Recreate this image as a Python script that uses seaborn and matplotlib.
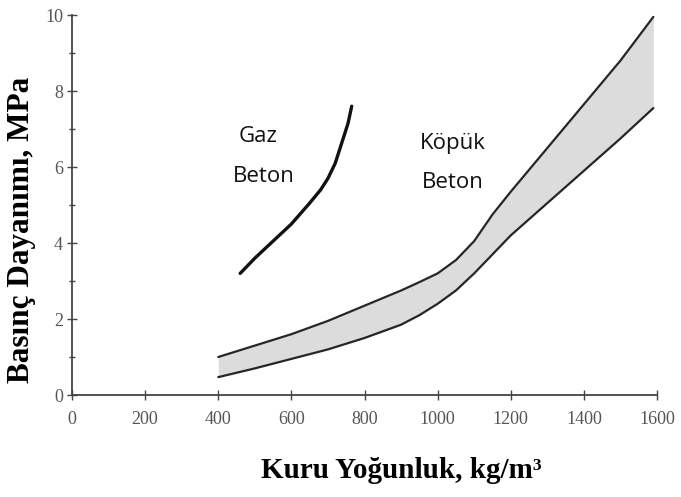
import numpy as np
import pandas as pd
import matplotlib
matplotlib.use("Agg")
import matplotlib.pyplot as plt
import seaborn as sns

# --------------------------------------------------------------
# Data
# --------------------------------------------------------------

gaz_density = [460, 500, 550, 600, 650, 680, 700, 720, 740, 755, 765]
gaz_strength = [3.2, 3.6, 4.05, 4.5, 5.05, 5.4, 5.7, 6.1, 6.7, 7.15, 7.6]

kopuk_density = [400, 500, 600, 700, 800, 900, 950, 1000, 1050, 1100,
                 1125, 1150, 1200, 1300, 1400, 1500, 1590]
kopuk_upper = [1.0, 1.3, 1.6, 1.95, 2.35, 2.75, 2.97, 3.2, 3.55, 4.05,
               4.4, 4.75, 5.35, 6.5, 7.65, 8.8, 9.95]
kopuk_lower = [0.47, 0.7, 0.95, 1.2, 1.5, 1.85, 2.1, 2.4, 2.75, 3.2,
               3.45, 3.7, 4.2, 5.05, 5.9, 6.75, 7.55]

x_ticks = [0, 200, 400, 600, 800, 1000, 1200, 1400, 1600]
y_ticks = [0, 2, 4, 6, 8, 10]

gaz = pd.DataFrame({"density": gaz_density, "strength": gaz_strength})
kopuk = pd.DataFrame({"density": kopuk_density,
                      "upper": kopuk_upper, "lower": kopuk_lower})

# --------------------------------------------------------------
# Plot
# --------------------------------------------------------------

sns.set_theme(style="ticks")
plt.rcParams["font.family"] = ["Liberation Serif", "DejaVu Serif"]

fig = plt.figure(figsize=(6.81, 4.97), dpi=100)
ax = fig.add_axes([72 / 681, 1 - 395 / 497, 585 / 681, 380 / 497])

line_col = "#262626"

ax.fill_between(kopuk["density"], kopuk["lower"], kopuk["upper"],
                color="#dcdcdc", lw=0)
sns.lineplot(data=kopuk, x="density", y="upper", ax=ax, color=line_col,
             lw=1.6, clip_on=False)
sns.lineplot(data=kopuk, x="density", y="lower", ax=ax, color=line_col,
             lw=1.6, clip_on=False)
sns.lineplot(data=gaz, x="density", y="strength", ax=ax, color="#111111",
             lw=2.4, clip_on=False)

label_font = dict(family=["Open Sans", "DejaVu Sans"], fontsize=16,
                  color="#111111", ha="center", va="center")
ax.text(510, 6.8, "Gaz", **label_font)
ax.text(525, 5.76, "Beton", **label_font)
ax.text(1041, 6.63, "Köpük", **label_font)
ax.text(1041, 5.58, "Beton", **label_font)

ax.set_xlim(0, 1600)
ax.set_ylim(0, 10)
ax.set_xticks(x_ticks)
ax.set_yticks(y_ticks)
ax.set_yticks([1, 3, 5, 7, 9], minor=True)
ax.set_xlabel("")
ax.set_ylabel("")
ax.tick_params(axis="both", which="both", direction="inout", color="#444444",
               width=1.0, labelcolor="#555555", labelsize=13)
ax.tick_params(axis="x", which="major", length=7, pad=8)
ax.tick_params(axis="y", which="major", length=7, pad=3)
ax.tick_params(axis="y", which="minor", length=5)

sns.despine(ax=ax)
for side in ["left", "bottom"]:
    ax.spines[side].set_color("#444444")
    ax.spines[side].set_linewidth(1.3)

# axis titles placed in figure pixels to follow the reference
fig.text(401 / 681, 1 - 470 / 497, "Kuru Yoğunluk, kg/m³", fontsize=21,
         fontweight="bold", color="#000000", ha="center", va="center")
fig.text(22 / 681, 1 - 230 / 497, "Basınç Dayanımı, MPa", fontsize=22.5,
         fontweight="bold", color="#000000", ha="center", va="center",
         rotation=90)

fig.savefig("out.png", dpi=100)
